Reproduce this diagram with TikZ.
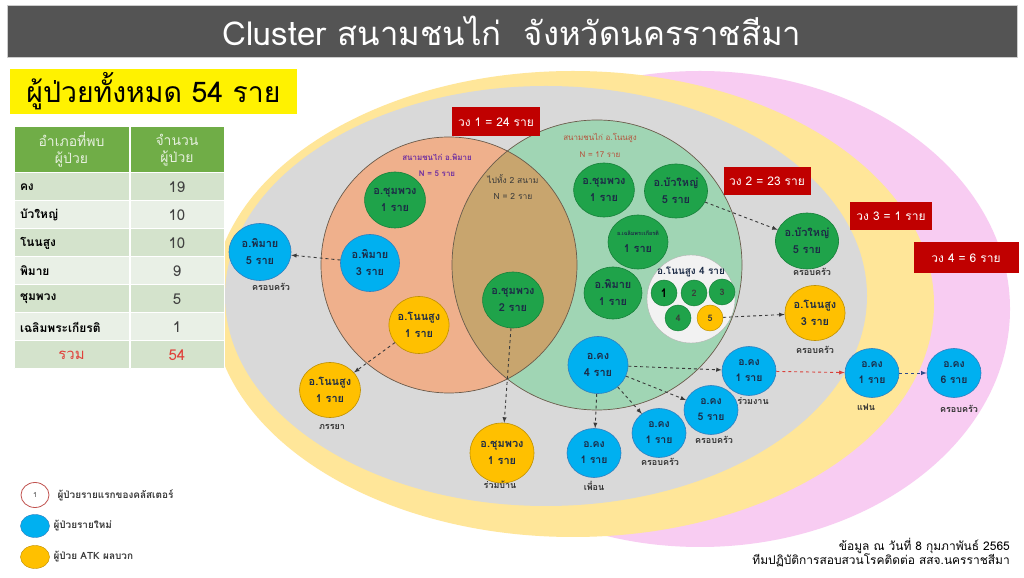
\documentclass[tikz,border=0pt]{standalone}
\usepackage{fontspec}
\setmainfont[Script=Thai]{Loma}
\usetikzlibrary{shapes.geometric}
\definecolor{titlegray}{HTML}{545454}
\definecolor{pinkring}{HTML}{F8CCF2}
\definecolor{yellowring}{HTML}{FFE699}
\definecolor{grayring}{HTML}{D9D9D9}
\definecolor{vennorange}{HTML}{EFB08C}
\definecolor{venngreen}{HTML}{A0D5B4}
\definecolor{venntan}{HTML}{C8A56E}
\definecolor{vennline}{HTML}{6B5B4B}
\definecolor{nodegreen}{HTML}{1FA34A}
\definecolor{nodegreenline}{HTML}{17803A}
\definecolor{nodeblue}{HTML}{00B0F0}
\definecolor{nodeblueline}{HTML}{2F7FC0}
\definecolor{nodeyellow}{HTML}{FFC000}
\definecolor{nodeyellowline}{HTML}{BF9000}
\definecolor{circtext}{HTML}{1C2B46}
\definecolor{tagtext}{HTML}{333333}
\definecolor{boxred}{HTML}{C00000}
\definecolor{hdgreen}{HTML}{70AD47}
\definecolor{hdtext}{HTML}{E6F0DE}
\definecolor{cdark}{HTML}{D4E3CC}
\definecolor{clight}{HTML}{E9F0E6}
\definecolor{numgray}{HTML}{404040}
\definecolor{sumred}{HTML}{E0403A}
\definecolor{purplet}{HTML}{7030A0}
\definecolor{brownt}{HTML}{B5523B}
\definecolor{darkt}{HTML}{3A3A3A}
\definecolor{legred}{HTML}{C0504D}
\definecolor{arrowred}{HTML}{D9413B}
\definecolor{arrowblue}{HTML}{2F4A8A}
\begin{document}
\begin{tikzpicture}[>=latex,line join=bevel,
  circ/.style={ellipse,draw,line width=0.6bp,inner sep=0pt,minimum width=60bp,minimum height=56bp,
    align=center,text=circtext,font=\bfseries\fontsize{11}{17}\selectfont},
  greenc/.style={circ,fill=nodegreen,draw=nodegreenline},
  bluec/.style={circ,fill=nodeblue,draw=nodeblueline},
  yellowc/.style={circ,fill=nodeyellow,draw=nodeyellowline},
  smallc/.style={minimum width=54bp,minimum height=49bp,font=\bfseries\fontsize{10.5}{16}\selectfont},
  numc/.style={circle,draw=nodegreenline,fill=nodegreen,line width=0.5bp,inner sep=0pt,minimum size=26bp,
    text=darkt,font=\bfseries\fontsize{9}{10}\selectfont},
  tag/.style={text=tagtext,font=\bfseries\fontsize{9}{10}\selectfont},
  ringbox/.style={fill=boxred,text=white,inner sep=0pt,minimum height=29bp,font=\fontsize{12}{14}\selectfont},
  vennlabel/.style={align=center,font=\bfseries\fontsize{8}{16}\selectfont},
  head/.style={fill=hdgreen,draw=white,line width=1bp,minimum height=46bp,inner sep=0pt,align=center,
    text=hdtext,font=\fontsize{14}{17}\selectfont},
  cella/.style={draw=white,line width=1bp,minimum height=28bp,inner ysep=0pt,inner xsep=6bp,text width=103bp,
    align=left,font=\bfseries\fontsize{12}{13}\selectfont},
  cellb/.style={draw=white,line width=1bp,minimum height=28bp,inner sep=0pt,minimum width=94bp,
    text=numgray,font=\fontsize{15}{17}\selectfont},
  legtext/.style={text=darkt,font=\bfseries\fontsize{10}{11}\selectfont},
  source/.style={anchor=east,inner sep=0pt,font=\fontsize{12}{13}\selectfont},
]
\useasboundingbox (0bp,0bp) rectangle (1024bp,578bp);
\fill[white] (0bp,0bp) rectangle (1024bp,578bp);
%% rings
\fill[pinkring] (700bp,269bp) ellipse [x radius=310bp,y radius=238bp];
\fill[yellowring] (573bp,274bp) ellipse [x radius=361bp,y radius=233bp];
\fill[grayring] (546bp,282bp) ellipse [x radius=321bp,y radius=210bp];
%% venn
\fill[vennorange] (449bp,313bp) circle (128bp);
\fill[venngreen] (597bp,313bp) circle (145bp);
\begin{scope}
  \clip (449bp,313bp) circle (128bp);
  \fill[venntan] (597bp,313bp) circle (145bp);
\end{scope}
\draw[vennline,line width=0.7bp] (449bp,313bp) circle (128bp);
\draw[vennline,line width=0.7bp] (597bp,313bp) circle (145bp);
\node (grp) at (691bp,279bp) [circle,fill=white!95!black,draw=gray!60,minimum size=88bp] {};
%%
\node (title) at (512bp,547bp) [fill=titlegray,draw=gray!40,minimum width=1010bp,minimum height=52bp,
  text=white,font=\fontsize{33}{38}\selectfont] {Cluster สนามชนไก่~~จังหวัดนครราชสีมา};
\node (total) at (153.5bp,486.5bp) [fill=yellow,minimum width=287bp,minimum height=43bp,
  font=\fontsize{28.5}{30}\selectfont] {ผู้ป่วยทั้งหมด 54 ราย};
%% table
\node (hd1) at (71.5bp,428bp) [head,minimum width=115bp] {อำเภอที่พบ\\ผู้ป่วย};
\node (hd2) at (177bp,428bp) [head,minimum width=94bp] {จำนวน\\ผู้ป่วย};
\node (kong) at (71.5bp,391bp) [cella,fill=cdark] {คง};
\node (kongn) at (177bp,391bp) [cellb,fill=cdark] {19};
\node (bua) at (71.5bp,363bp) [cella,fill=clight] {บัวใหญ่};
\node (buan) at (177bp,363bp) [cellb,fill=clight] {10};
\node (non) at (71.5bp,335bp) [cella,fill=cdark] {โนนสูง};
\node (nonn) at (177bp,335bp) [cellb,fill=cdark] {10};
\node (phi) at (71.5bp,307bp) [cella,fill=clight] {พิมาย};
\node (phin) at (177bp,307bp) [cellb,fill=clight] {9};
\node (chum) at (71.5bp,279bp) [cella,fill=cdark] {ชุมพวง};
\node (chumn) at (177bp,279bp) [cellb,fill=cdark] {5};
\node (chal) at (71.5bp,251bp) [cella,fill=clight] {เฉลิมพระเกียรติ};
\node (chaln) at (177bp,251bp) [cellb,fill=clight] {1};
\node (sum) at (71.5bp,223bp) [cellb,fill=cdark,minimum width=115bp,text=sumred] {รวม};
\node (sumn) at (177bp,223bp) [cellb,fill=cdark,text=sumred] {54};
%% ring labels
\node (ring1) at (496bp,456bp) [ringbox,minimum width=88bp] {วง 1 = 24 ราย};
\node (ring2) at (767bp,397bp) [ringbox,minimum width=87bp,minimum height=28bp] {วง 2 = 23 ราย};
\node (ring3) at (891bp,362bp) [ringbox,minimum width=82bp,minimum height=28bp] {วง 3 = 1 ราย};
\node (ring4) at (966bp,320bp) [ringbox,minimum width=105bp,minimum height=31bp] {วง 4 = 6 ราย};
\node (pmfield) at (437bp,413bp) [vennlabel,text=purplet] {สนามชนไก่ อ.พิมาย\\N = 5 ราย};
\node (both) at (513bp,391bp) [vennlabel,text=darkt,font=\fontsize{8.5}{16}\selectfont] {ไปทั้ง 2 สนาม\\N = 2 ราย};
\node (nsfield) at (600bp,433bp) [vennlabel,text=brownt,font=\fontsize{8}{17}\selectfont] {สนามชนไก่ อ.โนนสูง\\N = 17 ราย};
%% cases
\node (gcp1) at (395bp,378bp) [greenc] {อ.ชุมพวง\\1 ราย};
\node (bpm3) at (370bp,315bp) [bluec,minimum width=59bp,minimum height=57bp] {อ.พิมาย\\3 ราย};
\node (bpm5) at (260bp,326bp) [bluec,minimum width=62bp,minimum height=57bp] {อ.พิมาย\\5 ราย};
\node (yns1) at (419bp,253bp) [yellowc,minimum width=59bp,minimum height=57bp] {อ.โนนสูง\\1 ราย};
\node (yns1b) at (330bp,188bp) [yellowc,minimum width=61bp,minimum height=55bp] {อ.โนนสูง\\1 ราย};
\node (gcp2) at (513bp,278bp) [greenc] {อ.ชุมพวง\\2 ราย};
\node (ycp1) at (502bp,125bp) [yellowc,minimum width=64bp,minimum height=60bp] {อ.ชุมพวง\\1 ราย};
\node (gcp1b) at (604bp,388bp) [greenc,minimum height=54bp] {อ.ชุมพวง\\1 ราย};
\node (gbua) at (676bp,387bp) [greenc,minimum height=54bp] {อ.บัวใหญ่\\5 ราย};
\node (gchal) at (638bp,336bp) [greenc,minimum height=54bp] {{\fontsize{5.5}{9}\selectfont อ.เฉลิมพระเกียรติ}\\1 ราย};
\node (gpm1) at (613bp,285bp) [greenc,minimum width=58bp,minimum height=52bp] {อ.พิมาย\\1 ราย};
\node (gbuab) at (807bp,337bp) [greenc,minimum width=63bp,minimum height=56bp] {อ.บัวใหญ่\\5 ราย};
\node (yns3) at (815bp,265bp) [yellowc,minimum width=59bp,minimum height=55bp] {อ.โนนสูง\\3 ราย};
\node (bk4) at (598bp,213bp) [bluec,minimum width=60bp,minimum height=57bp] {อ.คง\\4 ราย};
\node (bkfr) at (594bp,125bp) [bluec,smallc] {อ.คง\\1 ราย};
\node (bkf1) at (659bp,145bp) [bluec,smallc] {อ.คง\\1 ราย};
\node (bkf5) at (711bp,168bp) [bluec,smallc] {อ.คง\\5 ราย};
\node (bkw) at (749bp,207bp) [bluec,smallc] {อ.คง\\1 ราย};
\node (bkl) at (872bp,205bp) [bluec,smallc] {อ.คง\\1 ราย};
\node (bk6) at (954bp,205bp) [bluec,smallc] {อ.คง\\6 ราย};
%% group of 4
\node (grpt) at (691bp,306bp) [tag,text=circtext,font=\bfseries\fontsize{10}{12}\selectfont] {อ.โนนสูง 4 ราย};
\node (n1) at (664bp,285bp) [numc,text=black,font=\bfseries\fontsize{12}{13}\selectfont] {1};
\node (n2) at (694bp,285bp) [numc] {2};
\node (n3) at (722bp,286bp) [numc] {3};
\node (n4) at (678bp,260bp) [numc] {4};
\node (n5) at (710bp,260bp) [numc,fill=nodeyellow,draw=nodeyellowline] {5};
%% tags
\node (tpm5) at (271bp,291bp) [tag] {ครอบครัว};
\node (tns1) at (332bp,151bp) [tag] {ภรรยา};
\node (tcp1) at (500bp,93bp) [tag] {ร่วมบ้าน};
\node (tfr) at (594bp,92bp) [tag] {เพื่อน};
\node (tf1) at (660bp,116bp) [tag] {ครอบครัว};
\node (tf5) at (714bp,138bp) [tag] {ครอบครัว};
\node (tw) at (753bp,177bp) [tag] {ร่วมงาน};
\node (tbua) at (812bp,306bp) [tag] {ครอบครัว};
\node (tns3) at (815bp,228bp) [tag] {ครอบครัว};
\node (tl) at (866bp,171bp) [tag] {แฟน};
\node (t6) at (959bp,169bp) [tag] {ครอบครัว};
%% legend
\node (leg1) at (35bp,83bp) [ellipse,draw=legred,fill=white,line width=0.8bp,minimum width=28bp,minimum height=25bp,
  inner sep=0pt,text=darkt,font=\fontsize{7}{8}\selectfont] {1};
\node (leg1t) at (54bp,83bp) [anchor=west,legtext] {ผู้ป่วยรายแรกของคลัสเตอร์};
\node (leg2) at (35bp,52bp) [ellipse,fill=nodeblue,draw=nodeblueline,minimum width=29bp,minimum height=23bp] {};
\node (leg2t) at (50bp,52bp) [anchor=west,legtext] {ผู้ป่วยรายใหม่};
\node (leg3) at (35bp,21bp) [ellipse,fill=nodeyellow,draw=nodeyellowline,minimum width=29bp,minimum height=23bp] {};
\node (leg3t) at (50bp,21bp) [anchor=west,legtext] {ผู้ป่วย ATK ผลบวก};
\node (src1) at (1010bp,32bp) [source] {ข้อมูล ณ วันที่ 8 กุมภาพันธ์ 2565};
\node (src2) at (1010bp,18bp) [source] {ทีมปฏิบัติการสอบสวนโรคติดต่อ สสจ.นครราชสีมา};
%% links
\draw [->,dashed,line width=0.9bp,darkt] (bpm3) -- (bpm5);
\draw [->,dashed,line width=0.9bp,darkt] (yns1) -- (yns1b);
\draw [->,dashed,line width=0.9bp,darkt] (gcp2) -- (ycp1);
\draw [->,dashed,line width=0.9bp,darkt] (gbua) -- (gbuab);
\draw [->,dashed,line width=0.9bp,darkt] (n5) -- (yns3);
\draw [->,dashed,line width=0.9bp,darkt] (bk4) -- (bkw);
\draw [->,dashed,line width=0.9bp,darkt] (bk4) -- (bkf5);
\draw [->,dashed,line width=0.9bp,darkt] (bk4) -- (bkf1);
\draw [->,dashed,line width=0.9bp,darkt] (bk4) -- (bkfr);
\draw [->,dashed,line width=0.9bp,arrowred] (bkw) -- (bkl);
\draw [->,dashed,line width=0.9bp,arrowblue] (bkl) -- (bk6);
%
\end{tikzpicture}
\end{document}
